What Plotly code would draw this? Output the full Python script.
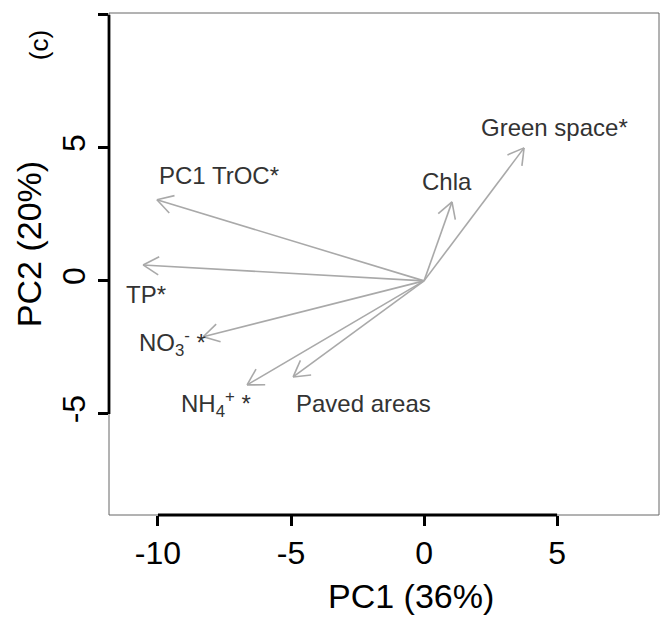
import math
import plotly.graph_objects as go

# ---- data ----
variables = ["PC1 TrOC*", "TP*", "NO<sub>3</sub><sup>-</sup> *", "NH<sub>4</sub><sup>+</sup> *",
             "Paved areas", "Chla", "Green space*"]
pc1 = [-10.04, -10.56, -8.30, -6.65, -4.92, 1.05, 3.76]
pc2 = [3.05, 0.60, -2.10, -3.91, -3.61, 2.97, 5.00]
label_x = [-7.71, -10.45, -9.47, -7.82, -2.26, 0.86, 4.89]
label_y = [3.95, -0.53, -2.33, -4.62, -4.62, 3.72, 5.75]

x_ticks = [-10, -5, 0, 5]
y_ticks = [-5, 0, 5, 10]
x_title = "PC1 (36%)"
y_title = "PC2 (20%)"
panel = "(c)"

FONT = "Liberation Sans, Arial, Helvetica, sans-serif"
ARROW = "#a9a9a9"

# arrow shafts + open V heads
xs, ys = [], []
head_len = 0.68
ang = math.radians(30)
for x, y in zip(pc1, pc2):
    xs += [0, x, None]
    ys += [0, y, None]
    n = math.hypot(x, y)
    ux, uy = x / n, y / n
    for s in (1, -1):
        c, si = math.cos(s * ang), math.sin(s * ang)
        rx = ux * c - uy * si
        ry = ux * si + uy * c
        xs += [x - head_len * rx, x, None]
        ys += [y - head_len * ry, y, None]

fig = go.Figure()
fig.add_trace(go.Scatter(x=xs, y=ys, mode="lines",
                         line=dict(color=ARROW, width=1.6),
                         hoverinfo="skip", showlegend=False))

for t, lx, ly in zip(variables, label_x, label_y):
    fig.add_annotation(x=lx, y=ly, xref="x", yref="y", text=t, showarrow=False,
                       font=dict(family=FONT, size=24, color="#333333"),
                       xanchor="center", yanchor="middle")

# axis titles and panel label
fig.add_annotation(x=0.549, y=-0.161, xref="paper", yref="paper", text=x_title,
                   showarrow=False, font=dict(family=FONT, size=34, color="black"),
                   xanchor="center", yanchor="middle")
fig.add_annotation(x=-0.145, y=0.54, xref="paper", yref="paper", text=y_title,
                   showarrow=False, textangle=-90,
                   font=dict(family=FONT, size=34, color="black"),
                   xanchor="center", yanchor="middle")
fig.add_annotation(x=-0.127, y=0.936, xref="paper", yref="paper", text=panel,
                   showarrow=False, textangle=-90,
                   font=dict(family=FONT, size=26, color="black"),
                   xanchor="center", yanchor="middle")

# box and R-style axis segments
fig.add_shape(type="rect", xref="paper", yref="paper", x0=0, y0=0, x1=1, y1=1,
              line=dict(color="#666666", width=1))
fig.add_shape(type="line", xref="x", yref="paper", x0=min(x_ticks), x1=max(x_ticks),
              y0=0, y1=0, line=dict(color="black", width=2.8))
fig.add_shape(type="line", xref="paper", yref="y", x0=0, x1=0,
              y0=min(y_ticks), y1=max(y_ticks), line=dict(color="black", width=2.8))

fig.update_xaxes(range=[-11.84, 8.83], tickvals=x_ticks, ticktext=[str(v) for v in x_ticks],
                 ticks="outside", ticklen=10, tickwidth=2.8, tickcolor="black",
                 showgrid=False, zeroline=False, showline=False,
                 tickfont=dict(family=FONT, size=32, color="black"))
fig.update_yaxes(range=[-8.8, 10.07], tickvals=y_ticks, ticktext=[str(v) for v in y_ticks],
                 ticks="outside", ticklen=10, tickwidth=2.8, tickcolor="black",
                 tickangle=-90,
                 showgrid=False, zeroline=False, showline=False,
                 tickfont=dict(family=FONT, size=32, color="black"))

fig.update_layout(width=661, height=619, margin=dict(l=109, r=2, t=13, b=104),
                  plot_bgcolor="white", paper_bgcolor="white")

fig.write_html("out.html")
